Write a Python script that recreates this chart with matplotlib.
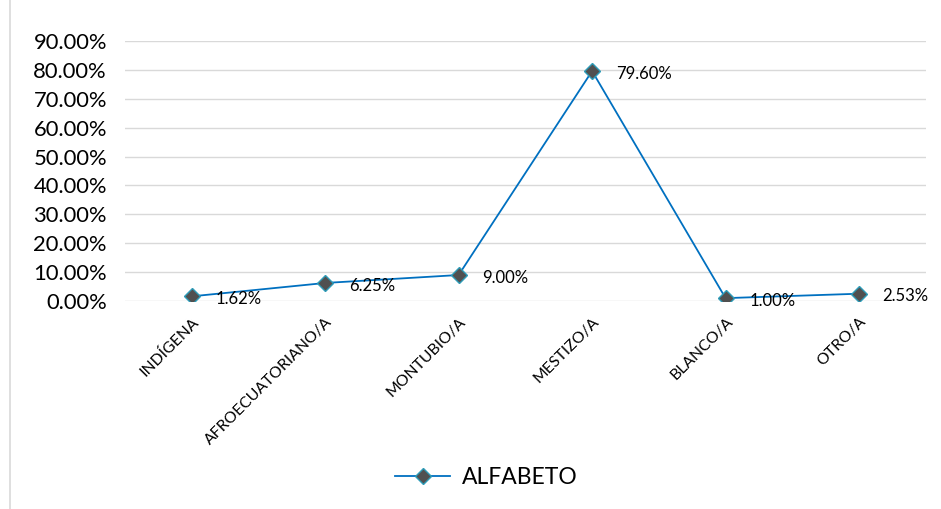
import matplotlib
matplotlib.use("Agg")
import matplotlib.pyplot as plt
from matplotlib.ticker import FuncFormatter, MultipleLocator
from matplotlib.lines import Line2D

categories = ["INDÍGENA", "AFROECUATORIANO/A", "MONTUBIO/A", "MESTIZO/A", "BLANCO/A", "OTRO/A"]
values = [1.62, 6.25, 9.00, 79.60, 1.00, 2.53]
series_name = "ALFABETO"

plt.rcParams['font.family'] = ['Lato', 'DejaVu Sans']

fig = plt.figure(figsize=(9.41, 5.09), dpi=100)
ax = fig.add_axes([0.1328, 0.4086, 0.851, 0.5108])

x = list(range(len(categories)))
ax.plot(x, values, color="#0070C0", lw=1.3, marker="D", markersize=8,
        markerfacecolor="#505050", markeredgecolor="#2E9CB8", markeredgewidth=1, zorder=3)

for xi, v in zip(x, values):
    ax.annotate(f"{v:.2f}%", (xi, v), xytext=(17, -2), textcoords="offset points",
                ha="left", va="center", fontsize=12, color="black")

ax.set_xlim(-0.5, len(categories) - 0.5)
ax.set_ylim(0, 90)
ax.yaxis.set_major_locator(MultipleLocator(10))
ax.yaxis.set_major_formatter(FuncFormatter(lambda v, p: f"{v:.2f}%"))
ax.grid(axis="y", color="#D9D9D9", lw=1)
ax.set_axisbelow(True)
for s in ax.spines.values():
    s.set_visible(False)
ax.tick_params(axis="both", length=0)
ax.tick_params(axis="y", labelsize=15.8, pad=13)
ax.set_xticks(x)
ax.set_xticklabels(categories, rotation=45, ha="right", rotation_mode="anchor", fontsize=11.3)
ax.tick_params(axis="x", pad=10)

handle = Line2D([], [], color="#0070C0", lw=1.3, marker="D", markersize=8,
                markerfacecolor="#505050", markeredgecolor="#2E9CB8", markeredgewidth=1)
fig.legend([handle], [series_name], loc="center", bbox_to_anchor=(0.517, 0.062),
           frameon=False, fontsize=16.5, handlelength=2.4, handletextpad=0.5)

fig.add_artist(Line2D([10/941, 10/941], [0, 1], transform=fig.transFigure, color="#D9D9D9", lw=1.2))

fig.savefig("out.png", dpi=100)
